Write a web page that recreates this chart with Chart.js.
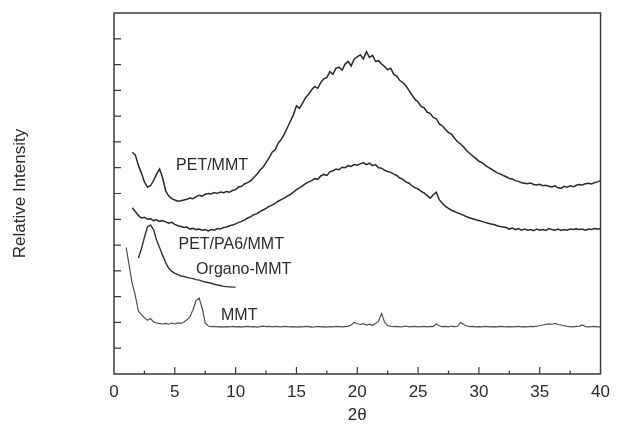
<!DOCTYPE html>
<html>
<head>
<meta charset="utf-8">
<script src="https://cdn.jsdelivr.net/npm/chart.js@4.4.1/dist/chart.umd.min.js"></script>
<style>
  html, body { margin: 0; padding: 0; background: #fff; }
  #wrap { width: 618px; height: 433px; }
</style>
</head>
<body>
<div id="wrap"><canvas id="xrd"></canvas></div>
<script>
// scan settings (start 2θ, step) and intensities
const seriesNames = ['PET/MMT', 'PET/PA6/MMT', 'Organo-MMT', 'MMT'];
const scanStep = 0.25;
const scanStart = [1.5, 1.5, 2.0, 1.0];

const petMmt = [
  8.6, 8.5,
  8.1, 7.8, 7.45, 7.25,   7.3, 7.5, 7.75, 7.95,   7.6, 7.1, 6.9, 6.8,
  6.75, 6.7, 6.72, 6.75,  6.78, 6.82, 6.8, 6.88,  6.93, 6.9, 6.97, 7.0,
  6.98, 7.04, 7.0, 7.06,  7.03, 7.08, 7.05, 7.12, 7.15, 7.25, 7.28, 7.38,
  7.42, 7.5, 7.62, 7.75,  7.9, 8.02, 8.2, 8.38,   8.6, 8.7, 8.95, 9.1,
  9.3, 9.55, 9.8, 10.05,  10.4, 10.3, 10.5, 10.72, 10.85, 11.02, 11.15, 11.08,
  11.3, 11.45, 11.5, 11.72, 11.62, 11.86, 11.9, 11.78, 12.02, 12.12, 11.95, 12.22,
  12.3, 12.38, 12.22, 12.5, 12.28, 12.36, 12.12, 12.15, 12.02, 11.92, 11.8, 11.86,
  11.62, 11.55, 11.38, 11.3, 11.18, 11.0, 10.82, 10.65, 10.55, 10.38, 10.32, 10.15,
  10.1, 9.95, 9.9, 9.7,   9.62, 9.48, 9.36, 9.3,  9.14, 9.0, 8.92, 8.8,
  8.66, 8.55, 8.45, 8.36, 8.25, 8.2, 8.1, 8.02,   7.95, 7.88, 7.8, 7.76,
  7.7, 7.65, 7.58, 7.56,  7.5, 7.47, 7.42, 7.4,   7.38, 7.41, 7.35, 7.33,
  7.36, 7.3, 7.32, 7.28,  7.25, 7.3, 7.22, 7.2,   7.28, 7.24, 7.3, 7.26,
  7.32, 7.35, 7.33, 7.38, 7.4, 7.37, 7.42, 7.45,
  7.5
];

const petPa6Mmt = [
  6.45, 6.3,
  6.15, 6.05, 6.08, 6.0,  6.02, 5.95, 5.98, 5.92, 5.95, 5.9, 5.85, 5.88,
  5.8, 5.75, 5.72, 5.68,  5.7, 5.62, 5.65, 5.6,   5.62, 5.58, 5.6, 5.55,
  5.6, 5.58, 5.64, 5.62,  5.68, 5.7, 5.75, 5.78,  5.82, 5.88, 5.92, 5.98,
  6.05, 6.1, 6.18, 6.22,  6.3, 6.36, 6.42, 6.5,   6.55, 6.62, 6.7, 6.76,
  6.82, 6.9, 6.96, 7.05,  7.15, 7.22, 7.3, 7.38,  7.45, 7.5, 7.58, 7.55,
  7.68, 7.74, 7.7, 7.84,  7.88, 7.95, 7.92, 8.02, 8.0, 8.08, 8.05, 8.12,
  8.1, 8.15, 8.2, 8.12,   8.18, 8.08, 8.12, 8.0,  7.98, 7.9, 7.85, 7.82,
  7.75, 7.7, 7.6, 7.55,   7.45, 7.4, 7.3, 7.22,   7.18, 7.08, 7.02, 6.92,
  6.82, 6.95, 7.05, 6.75, 6.62, 6.5, 6.42, 6.35,  6.3, 6.25, 6.2, 6.15,
  6.1, 6.05, 6.02, 5.98,  5.95, 5.92, 5.88, 5.85, 5.82, 5.8, 5.75, 5.72,
  5.7, 5.68, 5.62, 5.66,  5.6, 5.64, 5.58, 5.62,  5.58, 5.6, 5.56, 5.62,
  5.58, 5.6, 5.57, 5.64,  5.6, 5.58, 5.62, 5.57,  5.6, 5.58, 5.62, 5.6,
  5.63, 5.6, 5.62, 5.58,  5.62, 5.6, 5.64, 5.62,
  5.62
];

const organoMmt = [
  4.5, 4.85, 5.3, 5.7,  5.78, 5.6, 5.2, 4.9,  4.6, 4.32, 4.1, 3.98,
  3.9, 3.85, 3.8, 3.78, 3.75, 3.72, 3.7, 3.66, 3.64, 3.6, 3.57, 3.55,
  3.52, 3.48, 3.45, 3.43, 3.4, 3.39, 3.38, 3.37,
  3.37
];

const mmt = [
  4.9, 4.2, 3.5, 3.05,    2.45, 2.3, 2.18, 2.08,  2.15, 2.02, 1.98, 1.95,
  1.94, 1.96, 1.93, 1.97, 1.94, 1.98, 1.96, 2.02, 2.1, 2.22, 2.5, 2.85,
  2.95, 2.55, 1.98, 1.86, 1.84, 1.85, 1.83, 1.84, 1.82, 1.84, 1.83, 1.85,
  1.83, 1.84, 1.82, 1.84, 1.85, 1.83, 1.84, 1.82, 1.84, 1.86, 1.84, 1.85,
  1.83, 1.85, 1.84, 1.83, 1.85, 1.84, 1.83, 1.84, 1.82, 1.84, 1.83, 1.85,
  1.84, 1.82, 1.83, 1.85, 1.83, 1.84, 1.82, 1.84, 1.83, 1.85, 1.84, 1.83,
  1.84, 1.85, 1.9, 2.0,   1.95, 1.92, 1.95, 1.9,  1.93, 1.88, 1.96, 2.05,
  2.35, 2.0, 1.88, 1.85,  1.84, 1.85, 1.83, 1.84, 1.86, 1.83, 1.84, 1.85,
  1.83, 1.84, 1.85, 1.83, 1.85, 1.84, 1.95, 1.86, 1.84, 1.85, 1.83, 1.86,
  1.84, 1.85, 2.0, 1.92,  1.86, 1.84, 1.85, 1.83, 1.84, 1.83, 1.85, 1.84,
  1.83, 1.84, 1.83, 1.85, 1.84, 1.83, 1.84, 1.83, 1.84, 1.85, 1.83, 1.84,
  1.83, 1.85, 1.84, 1.86, 1.87, 1.9, 1.92, 1.94, 1.93, 1.96, 1.92, 1.9,
  1.87, 1.85, 1.84, 1.83, 1.85, 1.86, 1.9, 1.84,  1.83, 1.84, 1.85, 1.83,
  1.83
];

const xTicks = [0, 5, 10, 15, 20, 25, 30, 35, 40];
const yTicks = [1, 2, 3, 4, 5, 6, 7, 8, 9, 10, 11, 12, 13];

const FONT = "'Liberation Sans', Arial, sans-serif";
const INK = '#2b2b2b';

// build {x,y} points for each scan
const toPoints = (vals, start) => vals.map((v, i) => ({ x: start + i * scanStep, y: v }));
const allSeries = [petMmt, petPa6Mmt, organoMmt, mmt];
const lineColors = ['#2a2a2a', '#2a2a2a', '#333333', '#505050'];
const lineWidths = [1.5, 1.5, 1.4, 1.2];

// where each curve's name sits (2θ, intensity of text baseline)
const labelAnchors = [
  { x: 5.1, y: 7.93 },
  { x: 5.3, y: 4.86 },
  { x: 6.75, y: 3.86 },
  { x: 8.8, y: 2.09 }
];

const framePlugin = {
  id: 'frame',
  afterDraw(chart) {
    const { ctx, chartArea: a, scales } = chart;
    ctx.save();
    ctx.strokeStyle = '#3a3a3a';
    ctx.lineWidth = 1.5;
    ctx.strokeRect(a.left, a.top, a.right - a.left, a.bottom - a.top);

    // inward ticks, bottom axis
    ctx.lineWidth = 1.2;
    ctx.beginPath();
    for (let v = 2.5; v < 40; v += 2.5) {
      const px = scales.x.getPixelForValue(v);
      const len = (v % 5 === 0) ? 7 : 3.5;
      ctx.moveTo(px, a.bottom);
      ctx.lineTo(px, a.bottom - len);
    }
    // inward ticks, left axis
    yTicks.forEach(v => {
      const py = scales.y.getPixelForValue(v);
      ctx.moveTo(a.left, py);
      ctx.lineTo(a.left + 7, py);
    });
    ctx.stroke();

    // curve names
    ctx.fillStyle = INK;
    ctx.font = '16px ' + FONT;
    ctx.textBaseline = 'alphabetic';
    ctx.textAlign = 'left';
    seriesNames.forEach((name, i) => {
      const p = labelAnchors[i];
      ctx.fillText(name, scales.x.getPixelForValue(p.x), scales.y.getPixelForValue(p.y));
    });
    ctx.restore();
  }
};

new Chart(document.getElementById('xrd'), {
  type: 'line',
  data: {
    datasets: allSeries.map((vals, i) => ({
      label: seriesNames[i],
      data: toPoints(vals, scanStart[i]),
      borderColor: lineColors[i],
      borderWidth: lineWidths[i],
      pointRadius: 0,
      tension: 0,
      fill: false
    }))
  },
  options: {
    responsive: true,
    maintainAspectRatio: false,
    animation: false,
    layout: { padding: { top: 13, right: 12, left: 0, bottom: 0 } },
    plugins: {
      legend: { display: false },
      tooltip: { enabled: false }
    },
    scales: {
      x: {
        type: 'linear',
        min: 0, max: 40,
        afterBuildTicks: s => { s.ticks = xTicks.map(v => ({ value: v })); },
        afterFit: s => { s.height = 59; },
        grid: { display: false, drawTicks: false },
        border: { display: false },
        ticks: { padding: 8, color: INK, font: { family: FONT, size: 17 } },
        title: {
          display: true, text: '2θ', color: INK,
          font: { family: FONT, size: 17 },
          padding: { top: 0, bottom: 7 }
        }
      },
      y: {
        min: 0, max: 14,
        afterFit: s => { s.width = 114; },
        grid: { display: false, drawTicks: false },
        border: { display: false },
        ticks: { display: false },
        title: {
          display: true, text: 'Relative Intensity', color: INK,
          font: { family: FONT, size: 17 },
          padding: { top: 10, bottom: 0 }
        }
      }
    }
  },
  plugins: [framePlugin]
});
</script>
</body>
</html>
